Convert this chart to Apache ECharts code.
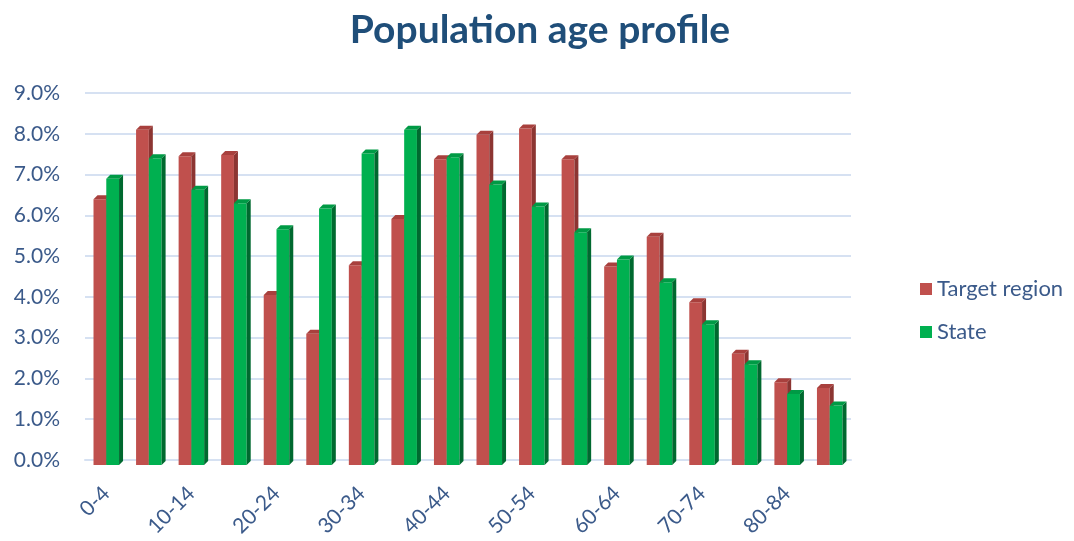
<!DOCTYPE html>
<html>
<head>
<meta charset="utf-8">
<title>Population age profile</title>
<script src="https://cdn.jsdelivr.net/npm/echarts@6/dist/echarts.min.js"></script>
<style>
  html, body { margin: 0; padding: 0; background: #fff; }
  #chart { width: 1074px; height: 541px; }
</style>
</head>
<body>
<div id="chart"></div>
<script>
// age groups on the x axis
var ageGroups = ["0-4", "5-9", "10-14", "15-19", "20-24", "25-29", "30-34", "35-39", "40-44",
  "45-49", "50-54", "55-59", "60-64", "65-69", "70-74", "75-79", "80-84", "85+"];
// share of population, percent
var targetRegion = [6.52, 8.22, 7.57, 7.6, 4.17, 3.22, 4.9, 6.03, 7.5, 8.1, 8.25, 7.5, 4.87, 5.6, 3.99, 2.73, 2.03, 1.89];
var state = [7.02, 7.52, 6.75, 6.42, 5.78, 6.29, 7.64, 8.22, 7.55, 6.88, 6.34, 5.71, 5.04, 4.48, 3.45, 2.47, 1.74, 1.46];
var yTicks = { min: 0, max: 9, interval: 1 };

var textBlue = "#3b5a8a";
var font = "Lato, 'Open Sans', sans-serif";

// colours for front / side / top faces
var redFaces = { front: "#c0504d", side: "#8c3532", top: "#a8403d" };
var greenFaces = { front: "#00b050", side: "#00692f", top: "#009a45" };

// draws a bar with a small 3d side and top, like the excel chart
function bar3d(faces, left) {
  return function (params, api) {
    var idx = api.value(0);
    var val = api.value(1);
    var top = api.coord([idx, val]);
    var base = api.coord([idx, 0]);
    var bw = api.size([1, 0])[0] * 0.3;
    var dx = 4, dy = 4, off = 5;
    var x0 = left ? top[0] - bw : top[0];
    var x1 = x0 + bw;
    var yT = top[1] + off, yB = base[1] + off;
    return {
      type: "group",
      children: [
        { type: "rect", shape: { x: x0, y: yT, width: bw, height: yB - yT }, style: { fill: faces.front } },
        { type: "polygon", shape: { points: [[x1, yT], [x1 + dx, yT - dy], [x1 + dx, yB - dy], [x1, yB]] }, style: { fill: faces.side } },
        { type: "polygon", shape: { points: [[x0, yT], [x0 + dx, yT - dy], [x1 + dx, yT - dy], [x1, yT]] }, style: { fill: faces.top } }
      ]
    };
  };
}

function toPairs(arr) {
  return arr.map(function (v, i) { return [i, v]; });
}

var chart = echarts.init(document.getElementById("chart"));
chart.setOption({
  animation: false,
  backgroundColor: "#fff",
  title: {
    text: "Population age profile",
    left: 535,
    textAlign: "center",
    top: 6,
    textStyle: { fontFamily: font, fontSize: 39, fontWeight: "bold", color: "#1f4e79" }
  },
  legend: {
    orient: "vertical",
    left: 915,
    top: 273,
    itemGap: 21,
    itemWidth: 12,
    itemHeight: 12,
    icon: "rect",
    textStyle: { fontFamily: font, fontSize: 22, color: textBlue },
    data: ["Target region", "State"]
  },
  grid: { left: 85, right: 223, top: 93, bottom: 81, containLabel: false },
  xAxis: {
    type: "category",
    data: ageGroups,
    boundaryGap: true,
    axisLine: { show: true, lineStyle: { color: "#d6e1f2", width: 2 } },
    axisTick: { show: false },
    axisLabel: {
      interval: 1,
      rotate: 45,
      margin: 30,
      fontFamily: font,
      fontSize: 21,
      color: textBlue
    }
  },
  yAxis: {
    type: "value",
    min: yTicks.min,
    max: yTicks.max,
    interval: yTicks.interval,
    axisLine: { show: false },
    axisTick: { show: false },
    splitLine: { lineStyle: { color: "#d6e1f2", width: 2 } },
    axisLabel: {
      margin: 25,
      fontFamily: font,
      fontSize: 21,
      color: textBlue,
      formatter: function (v) { return v.toFixed(1) + "%"; }
    }
  },
  series: [
    {
      name: "Target region",
      type: "custom",
      renderItem: bar3d(redFaces, true),
      itemStyle: { color: redFaces.front },
      encode: { x: 0, y: 1 },
      data: toPairs(targetRegion)
    },
    {
      name: "State",
      type: "custom",
      renderItem: bar3d(greenFaces, false),
      itemStyle: { color: greenFaces.front },
      encode: { x: 0, y: 1 },
      data: toPairs(state)
    }
  ]
});
</script>
</body>
</html>
